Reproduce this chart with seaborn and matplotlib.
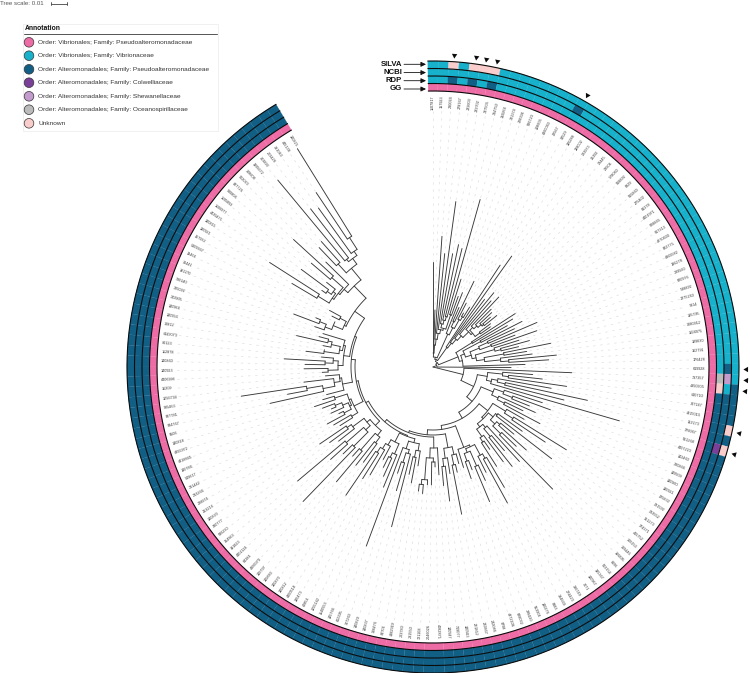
import matplotlib

matplotlib.use("Agg")
import matplotlib.pyplot as plt
import numpy as np
import pandas as pd
import seaborn as sns
from matplotlib.patches import Rectangle

# family names, same order as the legend
family_codes = ["Vp", "Vv", "Ap", "Colw", "Shew", "Ocean", "Un"]
family_names = [
    "Order: Vibrionales; Family: Pseudoalteromonadaceae",
    "Order: Vibrionales; Family: Vibrionaceae",
    "Order: Alteromonadales; Family: Pseudoalteromonadaceae",
    "Order: Alteromonadales; Family: Colwelliaceae",
    "Order: Alteromonadales; Family: Shewanellaceae",
    "Order: Alteromonadales; Family: Oceanospirillaceae",
    "Unknown",
]
family_colors = ["#EE6CA6", "#17B1CB", "#125F86", "#7A3F98", "#C39CCD", "#BBBBBB", "#F9CDCB"]

# leaf ids clockwise from the top
leaf_ids = [
    "1107817", "157923", "230024", "278167", "223603", "223702", "237505", "234750", "259264", "231374",
    "228394", "586720", "108605", "4360063", "22567", "34529", "146288", "128002", "283973", "25392",
    "23445", "23504", "578060", "568892", "8329", "565860", "275402", "81378", "4401971", "628865",
    "617313", "4270600", "822775", "4369582", "136278", "289560", "820976", "538892", "2275263", "9314",
    "185795", "3080912", "1116975", "189830", "162791", "176428", "619928", "797357", "4350905", "640710",
    "707147", "4315015", "153173", "376067", "561268", "4407223", "142460", "230866", "149509", "140960",
    "140921", "225832", "231592", "233552", "351273", "374371", "415752", "300153", "369446", "166895",
    "8696", "503154", "135367", "140967", "7071", "386749", "274423", "384669", "8383", "140276",
    "553904", "296420", "828032", "4372106", "8798", "242086", "222867", "221812", "140943", "719077",
    "140947", "4082871", "2046026", "721108", "281550", "203780", "4382919", "84701", "368476", "140837",
    "140829", "307260", "412395", "145766", "1140553", "1055142", "40854", "140473", "4400518", "140812",
    "140870", "140683", "140797", "4306070", "84384", "4401124", "191823", "354963", "636290", "780777",
    "140820", "253214", "228974", "233266", "231442", "549617", "140786", "4418845", "4355972", "140818",
    "8506", "834767", "837781", "985463", "1056734", "16209", "4406998", "140923", "140860", "112878",
    "80123", "6443073", "30812", "140956", "140964", "243905", "235092", "790140", "191170", "36441",
    "13464", "5409367", "257932", "140921", "140815", "4439475", "1106977", "1195893", "930806", "827726",
    "502023", "308608", "1395672", "303892", "203428", "381043", "445138", "140825",
]

# tip distance from the root, one per leaf
tip_dist = [
    105, 57, 131, 114, 167, 115, 125, 122, 174, 92,
    75, 80, 65, 95, 72, 62, 70, 122, 136, 85,
    96, 88, 96, 82, 80, 76, 82, 72, 70, 98,
    93, 85, 100, 90, 113, 88, 110, 90, 100, 88,
    120, 95, 100, 124, 116, 92, 78, 139, 100, 110,
    135, 120, 158, 135, 194, 115, 125, 104, 112, 100,
    121, 105, 157, 135, 110, 150, 105, 125, 115, 171,
    128, 110, 127, 118, 100, 118, 140, 155, 118, 125,
    146, 110, 118, 105, 100, 108, 150, 108, 135, 119,
    108, 100, 118, 118, 127, 125, 100, 118, 110, 165,
    129, 112, 191, 130, 120, 112, 105, 125, 132, 155,
    118, 125, 150, 120, 187, 125, 138, 177, 120, 128,
    137, 110, 115, 120, 105, 112, 110, 118, 125, 115,
    110, 167, 148, 194, 130, 108, 111, 129, 128, 149,
    112, 128, 110, 112, 140, 118, 115, 125, 149, 127,
    108, 113, 118, 164, 194, 135, 164, 136, 160, 189,
    150, 165, 168, 243, 200, 196, 210, 257,
]

# distance of the last common ancestor of each pair of neighbouring leaves
merge_dist = [
    14, 22, 28, 34, 38, 44, 48, 52, 40, 55,
    10, 36, 50, 44, 54, 58, 8, 24, 30, 36,
    42, 50, 56, 60, 64, 66, 52, 58, 6, 46,
    27, 54, 34, 60, 50, 62, 40, 64, 70, 44,
    72, 52, 68, 76, 30, 4, 0, 31, 70, 76,
    55, 66, 74, 60, 45, 75, 85, 65, 72, 80,
    52, 85, 95, 70, 80, 78, 88, 84, 95, 72,
    80, 90, 76, 85, 90, 59, 105, 100, 88, 108,
    92, 100, 86, 63, 90, 100, 82, 92, 100, 68,
    81, 95, 91, 113, 118, 70, 85, 92, 78, 90,
    100, 86, 74, 95, 100, 84, 90, 96, 102, 73,
    95, 88, 110, 82, 112, 92, 115, 86, 100, 105,
    76, 95, 88, 100, 92, 98, 105, 90, 103, 78,
    92, 112, 128, 100, 94, 82, 105, 95, 108, 100,
    90, 110, 95, 104, 108, 92, 84, 115, 122, 108,
    98, 105, 96, 135, 122, 130, 125, 120, 135, 118,
    113, 140, 128, 138, 135, 140, 154,
]

# ring annotation, run lengths clockwise from the top
silva_runs = [("Vv", 2), ("Un", 1), ("Vv", 1), ("Un", 3), ("Vv", 41), ("Ap", 4), ("Un", 1), ("Ap", 1), ("Un", 1), ("Ap", 113)]
ncbi_runs = [("Vv", 15), ("Ap", 1), ("Vv", 30), ("Ap", 1), ("Shew", 1), ("Vv", 1), ("Ap", 5), ("Colw", 1), ("Ap", 113)]
rdp_runs = [("Vv", 2), ("Ap", 1), ("Vv", 1), ("Ap", 1), ("Vv", 1), ("Ap", 1), ("Vv", 40), ("Ocean", 1), ("Un", 1), ("Ap", 119)]
gg_runs = [("Vp", 168)]

# leaves flagged with a triangle
flagged_leaves = [2, 4, 5, 6, 15, 46, 47, 48, 52, 54]

ring_names = ["SILVA", "NCBI", "RDP", "GG"]

STEP = 1.965
W, H = 750, 673
CX, CY = 433, 367
R_MAX = 320
RING_EDGES = [276.0, 283.5, 291.0, 298.5, 306.0]


def leaf_theta(i):
    return np.deg2rad(i * STEP)


def expand_runs(runs):
    out = []
    for code, n in runs:
        out += [code] * n
    return out


def build_node(a, b):
    """Split the leaf range at its lowest merge value, recursively."""
    if a == b:
        return {"theta": leaf_theta(a), "r": tip_dist[a], "kids": []}
    low = min(merge_dist[a:b])
    cuts = [i for i in range(a, b) if merge_dist[i] == low]
    starts = [a] + [c + 1 for c in cuts]
    ends = cuts + [b]
    kids = [build_node(s, e) for s, e in zip(starts, ends)]
    return {"theta": (kids[0]["theta"] + kids[-1]["theta"]) / 2, "r": low, "kids": kids}


def draw_node(ax, node, parent_r):
    line = dict(color="#383838", lw=0.65, solid_capstyle="round", zorder=3)
    ax.plot([node["theta"], node["theta"]], [parent_r, node["r"]], **line)
    if node["kids"]:
        arc = np.linspace(node["kids"][0]["theta"], node["kids"][-1]["theta"], 40)
        ax.plot(arc, np.full_like(arc, node["r"]), **line)
        for kid in node["kids"]:
            draw_node(ax, kid, node["r"])


sns.set_theme(style="white")
plt.rcParams["font.family"] = ["Liberation Sans", "DejaVu Sans"]
plt.rcParams["lines.scale_dashes"] = False

fig = plt.figure(figsize=(W / 100, H / 100), dpi=100, facecolor="white")

# polar axes, one data unit is one pixel
ax = fig.add_axes(
    [(CX - R_MAX) / W, (H - CY - R_MAX) / H, 2 * R_MAX / W, 2 * R_MAX / H],
    projection="polar",
)
ax.set_theta_zero_location("N")
ax.set_theta_direction(-1)
ax.set_rlim(0, R_MAX)
ax.axis("off")

palette = dict(zip(family_codes, sns.color_palette(family_colors)))
n_leaves = len(leaf_ids)
thetas = leaf_theta(np.arange(n_leaves))
cell = np.deg2rad(STEP)

# rings, GG is the inner one
for k, runs in enumerate([gg_runs, rdp_runs, ncbi_runs, silva_runs]):
    cols = [palette[c] for c in expand_runs(runs)]
    ax.bar(
        thetas, RING_EDGES[k + 1] - RING_EDGES[k], width=cell, bottom=RING_EDGES[k],
        color=cols, edgecolor=cols, linewidth=0.15, zorder=2,
    )
ring_arc = np.linspace(thetas[0] - cell / 2, thetas[-1] + cell / 2, 600)
for edge in RING_EDGES:
    ax.plot(ring_arc, np.full_like(ring_arc, edge), color="#0b0b0b", lw=0.8, zorder=4)

# dashed guides and labels
for i, leaf in enumerate(leaf_ids):
    ax.plot(
        [thetas[i], thetas[i]], [256, tip_dist[i]], color="#dcdcdc", lw=0.45,
        linestyle=(0, (1.7, 3.4)), zorder=1,
    )
    deg = i * STEP
    right_side = deg < 180
    ax.text(
        thetas[i], 272, leaf, fontsize=2.7, color="#333333", va="center",
        ha="right" if right_side else "left",
        rotation=(90 - deg) if right_side else (270 - deg),
        rotation_mode="anchor", zorder=5,
    )

# tree
root = build_node(0, n_leaves - 1)
for kid in root["kids"]:
    draw_node(ax, kid, 0)

# triangles pointing at the rings
for i in flagged_leaves:
    ax.scatter(
        thetas[i], 313, marker=(3, 0, 180 - i * STEP), s=20, color="#0b0b0b",
        linewidths=0, zorder=5, clip_on=False,
    )

# overlay in pixel coordinates for legend and ring names
over = fig.add_axes([0, 0, 1, 1], facecolor="none")
over.set_xlim(0, W)
over.set_ylim(H, 0)
over.axis("off")

over.text(0, 3.5, "Tree scale: 0.01", fontsize=4.4, color="#555555", va="center")
over.plot([51, 67], [3.5, 3.5], color="#444444", lw=0.6)
over.plot([51, 51], [2, 5], color="#444444", lw=0.6)
over.plot([67, 67], [2, 5], color="#444444", lw=0.6)

over.add_patch(Rectangle((22.5, 23.5), 195.5, 107.5, facecolor="white", edgecolor="#eeeeee", lw=0.6))
over.text(25, 29, "Annotation", fontsize=4.9, fontweight="bold", color="#111111", va="center")
over.plot([24, 217], [34.3, 34.3], color="#555555", lw=0.7)

legend_df = pd.DataFrame({
    "x": [29] * 7,
    "y": [42.3, 55.7, 69.3, 82.7, 96.3, 109.7, 123.3],
    "family": family_codes,
})
sns.scatterplot(
    data=legend_df, x="x", y="y", hue="family", palette=palette, s=48,
    edgecolor="#333333", linewidth=0.5, legend=False, ax=over,
)
over.set_xlim(0, W)
over.set_ylim(H, 0)
over.axis("off")
for y, name in zip(legend_df["y"], family_names):
    over.text(38.3, y, name, fontsize=4.65, color="#333333", va="center")

for y, name in zip([64.3, 72.6, 80.7, 89], ring_names):
    over.text(402, y, name, fontsize=5.6, fontweight="bold", color="#111111", va="center", ha="right")
    over.annotate(
        "", xy=(426, y), xytext=(404, y),
        arrowprops=dict(arrowstyle="-|>,head_width=0.12,head_length=0.25", color="#111111", lw=0.6, shrinkA=0, shrinkB=0),
    )

sns.despine(ax=over, left=True, bottom=True)
fig.savefig("out.png", dpi=100, facecolor="white")
print(len(leaf_ids), len(tip_dist), len(merge_dist))
